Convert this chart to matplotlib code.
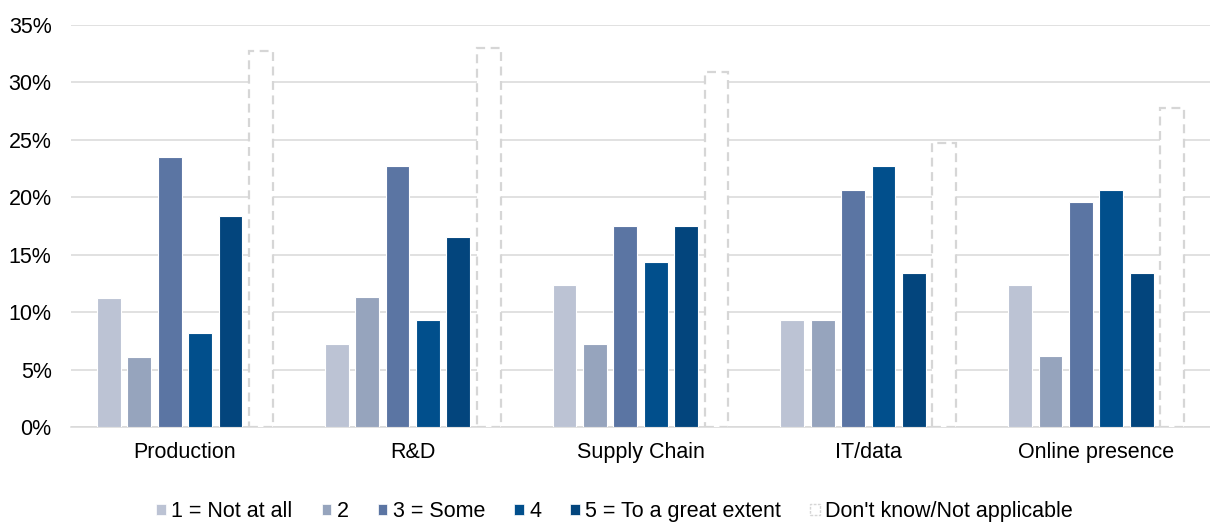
import matplotlib
matplotlib.use("Agg")
import matplotlib.pyplot as plt
import numpy as np
from matplotlib.ticker import PercentFormatter, MultipleLocator
from matplotlib.patches import Patch

plt.rcParams['font.family'] = ['Liberation Sans', 'DejaVu Sans']

categories = ["Production", "R&D", "Supply Chain", "IT/data", "Online presence"]
series_labels = ["1 = Not at all", "2", "3 = Some", "4", "5 = To a great extent",
                 "Don't know/Not applicable"]

not_at_all = [11.2, 7.2, 12.4, 9.3, 12.4]
score_2 = [6.1, 11.3, 7.2, 9.3, 6.2]
some = [23.5, 22.7, 17.5, 20.6, 19.6]
score_4 = [8.2, 9.3, 14.4, 22.7, 20.6]
great_extent = [18.4, 16.5, 17.5, 13.4, 13.4]
dont_know = [32.7, 33.0, 30.9, 24.7, 27.8]

series = [not_at_all, score_2, some, score_4, great_extent, dont_know]
colors = ["#BCC3D4", "#96A4BD", "#5B75A3", "#014F8C", "#03457D", "white"]

FS = 15.5

fig = plt.figure(figsize=(12.1, 5.23), dpi=100)
ax = fig.add_axes([0.0587, 0.1836, 0.9413, 0.7686])

x = np.arange(len(categories))
pitch = 0.1335
width = 0.105
offsets = (np.arange(len(series)) - (len(series) - 1) / 2) * pitch

for i, (vals, col) in enumerate(zip(series, colors)):
    if i < 5:
        ax.bar(x + offsets[i], vals, width, color=col, edgecolor="white",
               linewidth=0.8, zorder=3)
    else:
        ax.bar(x + offsets[i], vals, width, facecolor="white",
               edgecolor="#D6D6D6", linewidth=1.6, linestyle=(0, (4, 2.5)),
               zorder=3)

ax.set_xlim(-0.5, 4.5)
ax.set_ylim(0, 35)
ax.yaxis.set_major_locator(MultipleLocator(5))
ax.yaxis.set_major_formatter(PercentFormatter(decimals=0))
ax.set_xticks(x)
ax.set_xticklabels(categories)
ax.tick_params(axis="both", length=0, labelsize=FS, colors="#000000")
ax.tick_params(axis="x", pad=11)
ax.tick_params(axis="y", pad=14)
ax.grid(axis="y", color="#D9D9D9", linewidth=1.1, zorder=0)
ax.set_axisbelow(True)
for side in ["left", "right", "top"]:
    ax.spines[side].set_visible(False)
ax.spines["bottom"].set_color("#D9D9D9")
ax.spines["bottom"].set_linewidth(1.1)

handles = [Patch(facecolor=c, edgecolor="white", linewidth=0.5) for c in colors[:5]]
handles.append(Patch(facecolor="white", edgecolor="#D6D6D6", linewidth=1.0,
                     linestyle=(0, (2, 1))))
fig.legend(handles, series_labels, loc="center", bbox_to_anchor=(0.508, 0.022),
           ncol=6, frameon=False, fontsize=FS, handlelength=0.45,
           handleheight=0.45, handletextpad=0.25, columnspacing=1.35)

fig.savefig("out.png", dpi=100)
